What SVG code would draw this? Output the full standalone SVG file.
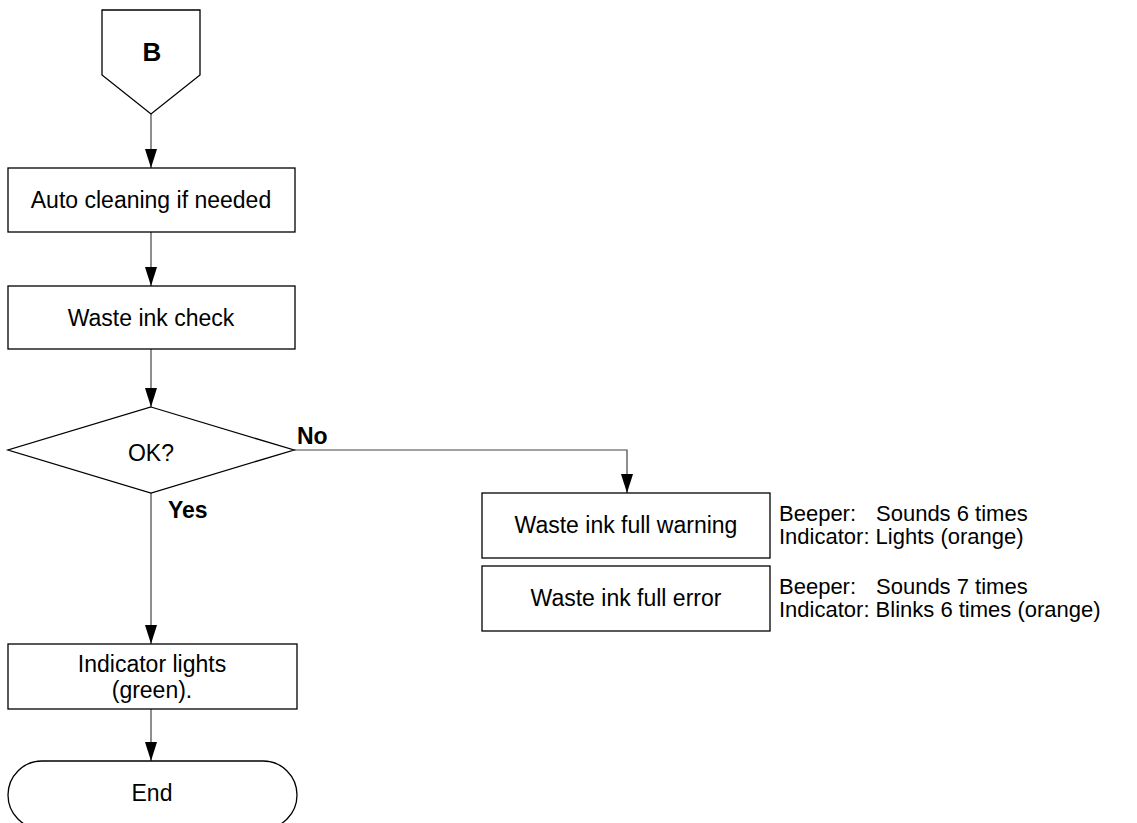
<svg xmlns="http://www.w3.org/2000/svg" width="1137" height="823" viewBox="0 0 1137 823">
<style>
  .shape { fill: #ffffff; stroke: #000000; stroke-width: 1.3; }
  .conn { fill: none; stroke: #444444; stroke-width: 1.2; }
  .t { font-family: "Liberation Sans", Arial, sans-serif; font-size: 23px; fill: #000000; }
  .s { font-size: 22px; }
  .c { text-anchor: middle; }
  .b { font-weight: bold; }
</style>
<defs>
  <marker id="ah" markerWidth="19" markerHeight="12" refX="19" refY="6" orient="auto" markerUnits="userSpaceOnUse" viewBox="0 0 19 12">
    <path d="M0,0 L19,6 L0,12 Z" fill="#000000"/>
  </marker>
</defs>

<g id="connectors">
  <path class="conn" d="M151,114 V168" marker-end="url(#ah)"/>
  <path class="conn" d="M151,232 V286" marker-end="url(#ah)"/>
  <path class="conn" d="M151,349 V407" marker-end="url(#ah)"/>
  <path class="conn" d="M151,493 V644" marker-end="url(#ah)"/>
  <path class="conn" d="M151,709 V761" marker-end="url(#ah)"/>
  <path class="conn" d="M294,450 H627 V493" marker-end="url(#ah)"/>
</g>

<g id="node-B">
  <path class="shape" d="M102,10 H200 V75 L151,114 L102,75 Z"/>
  <text class="t c b" x="152" y="61" style="font-size:26px">B</text>
</g>

<g id="node-auto-cleaning">
  <rect class="shape" x="8" y="168" width="287" height="64"/>
  <text class="t c" x="151" y="208">Auto cleaning if needed</text>
</g>

<g id="node-waste-check">
  <rect class="shape" x="8" y="286" width="287" height="63"/>
  <text class="t c" x="151" y="326">Waste ink check</text>
</g>

<g id="node-ok">
  <path class="shape" d="M151,407 L294,450 L151,493 L8,450 Z"/>
  <text class="t c" x="151" y="461">OK?</text>
</g>

<g id="labels">
  <text class="t b" x="297" y="444">No</text>
  <text class="t b" x="168" y="518">Yes</text>
</g>

<g id="node-full-warning">
  <rect class="shape" x="482" y="493" width="288" height="65"/>
  <text class="t c" x="626" y="533">Waste ink full warning</text>
  <text class="t s" x="779" y="521">Beeper:</text>
  <text class="t s" x="876" y="521">Sounds 6 times</text>
  <text class="t s" x="779" y="544">Indicator: Lights (orange)</text>
</g>

<g id="node-full-error">
  <rect class="shape" x="482" y="566" width="288" height="65"/>
  <text class="t c" x="626" y="606">Waste ink full error</text>
  <text class="t s" x="779" y="594">Beeper:</text>
  <text class="t s" x="876" y="594">Sounds 7 times</text>
  <text class="t s" x="779" y="617">Indicator: Blinks 6 times (orange)</text>
</g>

<g id="node-indicator-green">
  <rect class="shape" x="8" y="644" width="289" height="65"/>
  <text class="t c" x="152" y="672">Indicator lights</text>
  <text class="t c" x="152" y="698">(green).</text>
</g>

<g id="node-end">
  <rect class="shape" x="8" y="761" width="289" height="68" rx="34" ry="34"/>
  <text class="t c" x="152" y="801">End</text>
</g>
</svg>
